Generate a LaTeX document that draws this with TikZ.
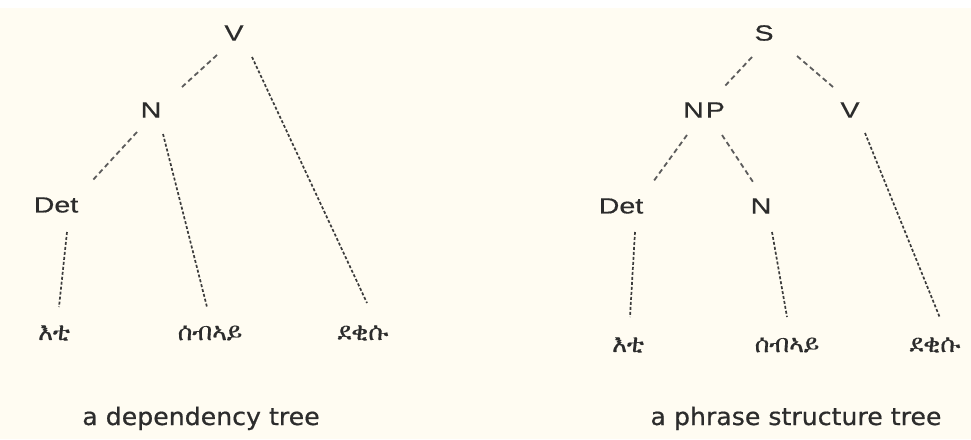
\documentclass[tikz,border=0pt]{standalone}
\usepackage{fontspec}
\setmainfont{Liberation Sans}[FakeStretch=1.3,FakeBold=0.6]
\newfontfamily\capfont{DejaVu Sans}[FakeStretch=1.05,FakeBold=0.6]
\IfFontExistsTF{FreeSerif}{\newfontfamily\ethfont{FreeSerif}[FakeBold=0.5]}{%
 \IfFontExistsTF{FreeSerif.otf}{\newfontfamily\ethfont{FreeSerif.otf}}{%
  \IfFontExistsTF{Abyssinica SIL}{\newfontfamily\ethfont{Abyssinica SIL}}{%
   \newfontfamily\ethfont{DejaVu Sans}}}}
\definecolor{bg}{HTML}{FFFCF2}
\definecolor{ink}{HTML}{2C2C2C}
\definecolor{lineA}{HTML}{5C5C5C}
\definecolor{lineB}{HTML}{3C3C3C}
\begin{document}
\begin{tikzpicture}[x=1pt,y=-1pt,
  lab/.style={font=\fontsize{22}{22}\selectfont, text=ink, inner sep=0pt},
  eth/.style={font=\ethfont\fontsize{25}{25}\selectfont, text=ink, inner sep=0pt},
  captxt/.style={font=\capfont\fontsize{24}{24}\selectfont, text=ink, inner sep=0pt, anchor=base},
  edgeA/.style={draw=lineA, line width=1.8pt, dash pattern=on 5pt off 3.5pt},
  edgeB/.style={draw=lineB, line width=1.7pt, dash pattern=on 3pt off 2pt}]
\fill[white] (0,0) rectangle (971,439);
\fill[bg] (0,8) rectangle (971,439);
\useasboundingbox (0,0) rectangle (971,439);
% left tree
\node[lab] (V) at (234,33) {V};
\node[lab] (N) at (151,110) {N};
\node[lab] (Det) at (56,205) {Det};
\node[eth] (E1) at (54,333) {እቲ};
\node[eth] (E2) at (210,333) {ሰብኣይ};
\node[eth] (E3) at (363,333) {ደቂሱ};
\node[captxt] (C1) at (201,425) {a dependency tree};
\draw[edgeA] ([shift={(-17,22)}]V.center) -- ([shift={(31,-23)}]N.center);
\draw[edgeB] ([shift={(18,24)}]V.center) -- ([shift={(4,-30)}]E3.center);
\draw[edgeA] ([shift={(-14,22)}]N.center) -- ([shift={(36,-24)}]Det.center);
\draw[edgeB] ([shift={(12,24)}]N.center) -- ([shift={(-3,-26)}]E2.center);
\draw[edgeB] ([shift={(11,27)}]Det.center) -- ([shift={(5,-26)}]E1.center);
% right tree
\node[lab] (S) at (764,33) {S};
\node[lab] (NP) at (704,110) {N\kern2pt P};
\node[lab] (V2) at (850,110) {V};
\node[lab] (Det2) at (621,206) {Det};
\node[lab] (N2) at (761,206) {N};
\node[eth] (F1) at (628,345) {እቲ};
\node[eth] (F2) at (787,345) {ሰብኣይ};
\node[eth] (F3) at (935,345) {ደቂሱ};
\node[captxt] (C2) at (796,425) {a phrase structure tree};
\draw[edgeA] ([shift={(-12,24)}]S.center) -- ([shift={(20,-23)}]NP.center);
\draw[edgeA] ([shift={(33,23)}]S.center) -- ([shift={(-17,-23)}]V2.center);
\draw[edgeA] ([shift={(-17,25)}]NP.center) -- ([shift={(32,-24)}]Det2.center);
\draw[edgeA] ([shift={(18,25)}]NP.center) -- ([shift={(-8,-24)}]N2.center);
\draw[edgeB] ([shift={(15,23)}]V2.center) -- ([shift={(5,-27)}]F3.center);
\draw[edgeB] ([shift={(14,26)}]Det2.center) -- ([shift={(2,-28)}]F1.center);
\draw[edgeB] ([shift={(11,26)}]N2.center) -- ([shift={(0,-28)}]F2.center);
\end{tikzpicture}
\end{document}
